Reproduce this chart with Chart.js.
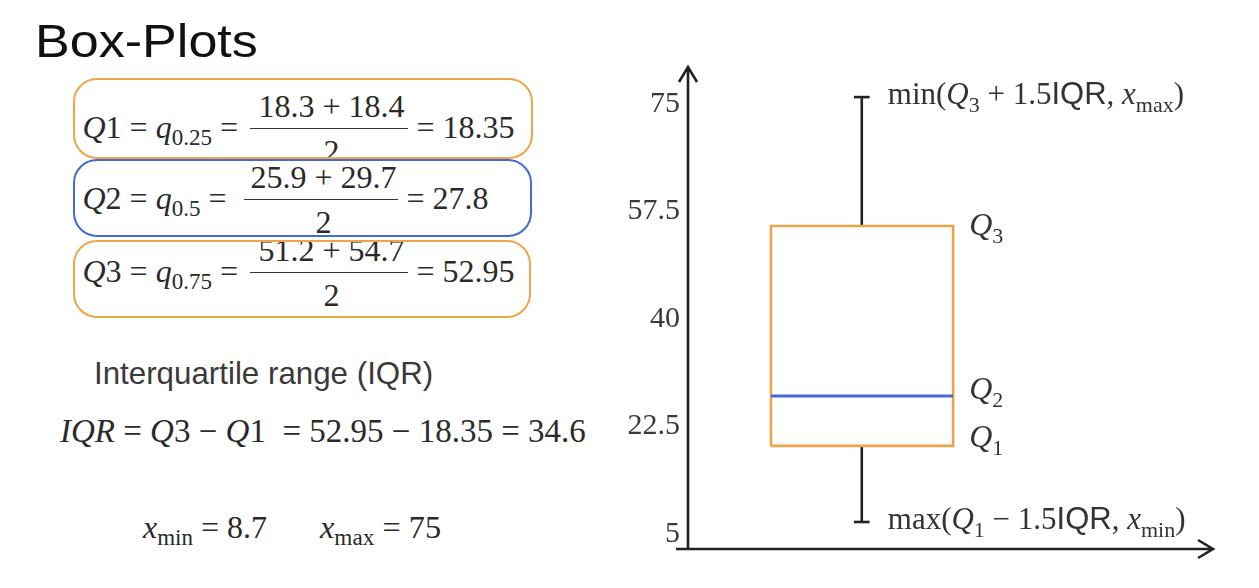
<!DOCTYPE html>
<html>
<head>
<meta charset="utf-8">
<script src="https://cdn.jsdelivr.net/npm/chart.js@4.4.0/dist/chart.umd.min.js"></script>
<style>
  html, body { margin:0; padding:0; background:#fff; }
  body { width:1259px; height:588px; position:relative; overflow:hidden; }
  .t { position:absolute; white-space:nowrap; line-height:1; color:#2a2a2a; font-family:'Liberation Serif', serif; }
  .t sub { font-size:0.72em; vertical-align:baseline; position:relative; top:0.3em; line-height:0; }
  .box { position:absolute; box-sizing:border-box; border-radius:24px; overflow:hidden; background:#fff; }
  .fl { position:absolute; height:1.6px; background:#333; }
  #wrap { position:absolute; left:600px; top:0; width:659px; height:588px; }
</style>
</head>
<body>
<div class="t" id="title" style="left:35px;top:18px;font-family:'Liberation Sans',sans-serif;font-size:46.5px;color:#111;transform:scaleX(1.12);transform-origin:left top;">Box-Plots</div>

<div class="box" id="b1" style="left:73px;top:78px;width:460px;height:81px;border:2.5px solid #F0A448;"></div>
<div class="box" id="b2" style="left:73px;top:159px;width:459px;height:78px;border:2.5px solid #4468D4;"></div>
<div class="box" id="b3" style="left:73px;top:240px;width:458px;height:78px;border:2.5px solid #F0A448;"></div>

<div id="wrap"><canvas id="c"></canvas></div>

<script>
// ---- data ----
const quartileNames  = ['Q1', 'Q2', 'Q3'];
const quartileValues = [19.3, 27.4, 55.1];
const whiskerNames   = ['lower', 'upper'];
const whiskerValues  = [6.9, 76.1];
const yTickValues    = [5, 22.5, 40, 57.5, 75];
const yTickLabels    = ['5', '22.5', '40', '57.5', '75'];
const yRange         = [2.5, 81];

// ---- left-hand formula text ----
function place(parent, html, x, baseline, size, opts) {
  opts = opts || {};
  const d = document.createElement('div');
  d.className = 't';
  d.innerHTML = html;
  d.style.fontSize = size + 'px';
  if (opts.sans) d.style.fontFamily = "'Liberation Sans', sans-serif";
  if (opts.color) d.style.color = opts.color;
  const asc = opts.sans ? 0.8465 : 0.8375;
  d.style.top = (baseline - asc * size - (parent._oy || 0)) + 'px';
  d.style.left = (x - (parent._ox || 0)) + 'px';
  if (opts.center) d.style.transform = 'translateX(-50%)';
  parent.appendChild(d);
  return d;
}
function fracLine(parent, x1, x2, y) {
  const d = document.createElement('div');
  d.className = 'fl';
  d.style.left = (x1 - parent._ox) + 'px';
  d.style.width = (x2 - x1) + 'px';
  d.style.top = (y - parent._oy) + 'px';
  parent.appendChild(d);
}
const rows = [
  { el: 'b1', left: '<i>Q</i>1 = <i>q</i><sub>0.25</sub> =', num: '18.3 + 18.4', right: '= 18.35', line: 129, lx: [250, 408], rx: 417 },
  { el: 'b2', left: '<i>Q</i>2 = <i>q</i><sub>0.5</sub> =',  num: '25.9 + 29.7', right: '= 27.8',  line: 200, lx: [244, 398], rx: 407 },
  { el: 'b3', left: '<i>Q</i>3 = <i>q</i><sub>0.75</sub> =', num: '51.2 + 54.7', right: '= 52.95', line: 273, lx: [250, 408], rx: 417 }
];
rows.forEach(r => {
  const b = document.getElementById(r.el);
  b._ox = parseFloat(b.style.left) + 2.5;
  b._oy = parseFloat(b.style.top) + 2.5;
  const fs = 32;
  place(b, r.left, 83, r.line + 9, fs);
  place(b, r.num, (r.lx[0] + r.lx[1]) / 2 + 3, r.line - 12, fs, { center: true });
  fracLine(b, r.lx[0], r.lx[1], r.line - 0.8);
  place(b, '2', (r.lx[0] + r.lx[1]) / 2 + 3, r.line + 33, fs, { center: true });
  place(b, r.right, r.rx, r.line + 9, fs);
});
const body = document.body; body._ox = 0; body._oy = 0;
place(body, 'Interquartile range (IQR)', 94, 384, 31.3, { sans: true, color: '#3a3a3a' });
place(body, '<i>IQR</i> = <i>Q</i>3 − <i>Q</i>1 &nbsp;= 52.95 − 18.35 = 34.6', 60, 443, 33);
place(body, '<i>x</i><sub>min</sub> = 8.7', 143, 538, 32);
place(body, '<i>x</i><sub>max</sub> = 75', 320, 538, 32.3);

// ---- chart ----
const ORANGE = '#F0A448', BLUE = '#4468D4', INK = '#222222';
const BOX_L = 15.8, BOX_R = 50.5, MID = 33.1, CAP = 1.5;

const markLabels = [
  { value: whiskerValues[1], anchor: 'whisker', dy: 7, runs: [['min('], ['Q', 'i'], ['3', 'sub'], [' + 1.5'], ['IQR', 'sans'], [', '], ['x', 'i'], ['max', 'sub'], [')']] },
  { value: quartileValues[2], anchor: 'box', dy: 9, runs: [['Q', 'i'], ['3', 'sub']] },
  { value: quartileValues[1], anchor: 'box', dy: 3, runs: [['Q', 'i'], ['2', 'sub']] },
  { value: quartileValues[0], anchor: 'box', dy: 1, runs: [['Q', 'i'], ['1', 'sub']] },
  { value: whiskerValues[0], anchor: 'whisker', dy: 7, runs: [['max('], ['Q', 'i'], ['1', 'sub'], [' − 1.5'], ['IQR', 'sans'], [', '], ['x', 'i'], ['min', 'sub'], [')']] }
];

function drawRuns(ctx, x, baseline, runs, size) {
  runs.forEach(([t, kind]) => {
    const sub = kind === 'sub';
    const s = sub ? Math.round(size * 0.7) : size;
    const fam = kind === 'sans' ? "'Liberation Sans', sans-serif" : "'Liberation Serif', serif";
    ctx.font = (kind === 'i' ? 'italic ' : '') + s + 'px ' + fam;
    ctx.fillText(t, x, baseline + (sub ? size * 0.25 : 0));
    x += ctx.measureText(t).width;
  });
}

const decorPlugin = {
  id: 'decor',
  afterDatasetsDraw(chart) {
    const { ctx, chartArea: a, scales: { x, y } } = chart;
    ctx.save();
    ctx.strokeStyle = INK;
    ctx.lineWidth = 2.6;
    ctx.lineJoin = 'miter';
    ctx.beginPath();
    ctx.moveTo(a.left, a.bottom + 1);
    ctx.lineTo(a.left, a.top);
    ctx.moveTo(a.left - 9, a.top + 15);
    ctx.lineTo(a.left, a.top);
    ctx.lineTo(a.left + 9, a.top + 15);
    ctx.moveTo(a.left - 12, a.bottom);
    ctx.lineTo(a.right, a.bottom);
    ctx.moveTo(a.right - 15, a.bottom - 9);
    ctx.lineTo(a.right, a.bottom);
    ctx.lineTo(a.right - 15, a.bottom + 9);
    ctx.stroke();
    ctx.fillStyle = '#333';
    ctx.textBaseline = 'alphabetic';
    ctx.textAlign = 'left';
    markLabels.forEach(m => {
      const px = m.anchor === 'whisker' ? x.getPixelForValue(MID) + 26 : x.getPixelForValue(BOX_R) + 16;
      const size = m.anchor === 'whisker' ? 31 : 32;
      drawRuns(ctx, px, y.getPixelForValue(m.value) + m.dy, m.runs, size);
    });
    ctx.restore();
  }
};

const [q1, q2, q3] = quartileValues;
const [wLo, wHi] = whiskerValues;
const seg = (data, color, w) => ({ data, borderColor: color, borderWidth: w, showLine: true, pointRadius: 0, fill: false, borderCapStyle: 'butt', tension: 0 });

new Chart(document.getElementById('c'), {
  type: 'scatter',
  data: {
    datasets: [
      seg([{ x: BOX_L, y: q2 }, { x: BOX_R, y: q2 }], BLUE, 3),
      seg([{ x: BOX_L, y: q1 }, { x: BOX_R, y: q1 }, { x: BOX_R, y: q3 }, { x: BOX_L, y: q3 }, { x: BOX_L, y: q1 }], ORANGE, 2.6),
      seg([{ x: MID, y: q3 }, { x: MID, y: wHi }], INK, 2.6),
      seg([{ x: MID - CAP, y: wHi }, { x: MID + CAP, y: wHi }], INK, 2.6),
      seg([{ x: MID, y: q1 }, { x: MID, y: wLo }], INK, 2.6),
      seg([{ x: MID - CAP, y: wLo }, { x: MID + CAP, y: wLo }], INK, 2.6)
    ]
  },
  options: {
    responsive: true,
    maintainAspectRatio: false,
    animation: false,
    layout: { padding: { top: 67, bottom: 39, right: 46, left: 0 } },
    plugins: { legend: { display: false }, tooltip: { enabled: false } },
    scales: {
      x: { type: 'linear', min: 0, max: 100, display: false },
      y: {
        type: 'linear', min: yRange[0], max: yRange[1],
        afterBuildTicks: s => { s.ticks = yTickValues.map(v => ({ value: v })); },
        afterFit: s => { s.width = 88; },
        grid: { display: false, drawTicks: false },
        border: { display: false },
        ticks: {
          padding: 8,
          color: '#3a3a3a',
          font: { family: "'Liberation Serif', serif", size: 30 },
          callback: (v) => { const i = yTickValues.indexOf(v); return i >= 0 ? yTickLabels[i] : ''; }
        }
      }
    }
  },
  plugins: [decorPlugin]
});
</script>
</body>
</html>
